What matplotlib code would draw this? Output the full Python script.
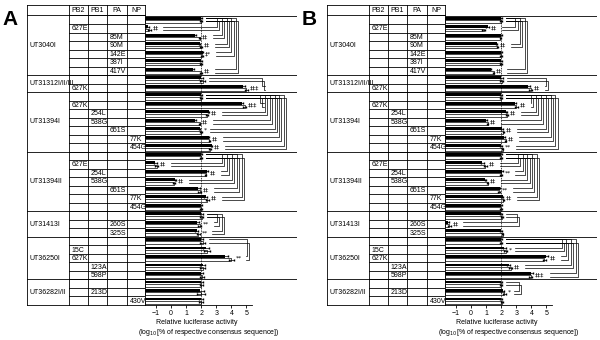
import matplotlib
matplotlib.use('Agg')
import matplotlib.pyplot as plt

plt.rcParams['font.family'] = ['Liberation Sans', 'DejaVu Sans']

# virus strains and number of table rows per strain
groups = ['UT3040I', 'UT31312I/II/III', 'UT31394I', 'UT31394II', 'UT31413I', 'UT36250I', 'UT36282I/II']
group_sizes = [7, 2, 7, 7, 3, 5, 3]
segments = ['PB2', 'PB1', 'PA', 'NP']

# mutation per row (segment, label); None = consensus row
mutations = [
    None, ('PB2', '627E'), ('PA', '85M'), ('PA', '90M'), ('PA', '142E'), ('PA', '387I'), ('PA', '417V'),
    None, ('PB2', '627K'),
    None, ('PB2', '627K'), ('PB1', '254L'), ('PB1', '538G'), ('PA', '651S'), ('NP', '77K'), ('NP', '454G'),
    None, ('PB2', '627E'), ('PB1', '254L'), ('PB1', '538G'), ('PA', '651S'), ('NP', '77K'), ('NP', '454G'),
    None, ('PA', '260S'), ('PA', '325S'),
    None, ('PB2', '15C'), ('PB2', '627K'), ('PB1', '123A'), ('PB1', '598P'),
    None, ('PB1', '213D'), ('NP', '430V'),
]

# panel A, log10 relative activity (black bar / white bar)
a_black = [2.0, -1.55, 1.6, 1.9, 2.1, 2.0, 1.45,
           2.0, 4.8,
           2.0, 4.7, 2.5, 1.6, 1.9, 2.5, 2.7,
           2.0, -1.05, 2.4, 0.3, 1.8, 2.3, 2.0,
           2.0, 1.75, 1.7,
           2.0, 2.3, 3.6, 2.1, 2.0,
           2.0, 1.95, 2.0]
a_white = [2.0, -1.45, 1.9, 2.0, 2.05, 2.0, 2.0,
           2.1, 5.0,
           2.0, 4.9, 2.4, 1.9, 2.0, 2.55, 2.6,
           2.0, -0.95, 2.3, 0.2, 1.9, 2.4, 2.0,
           2.05, 1.9, 1.8,
           2.1, 2.4, 4.0, 2.1, 2.05,
           2.0, 2.0, 2.0]
a_err = [0.05, 0.1, 0.05, 0.05, 0.05, 0.05, 0.05,
         0.15, 0.1,
         0.05, 0.1, 0.05, 0.05, 0.05, 0.05, 0.05,
         0.05, 0.1, 0.05, 0.05, 0.1, 0.1, 0.05,
         0.1, 0.1, 0.1,
         0.15, 0.2, 0.15, 0.15, 0.15,
         0.1, 0.25, 0.15]
a_marks = ['', '‡‡', '‡‡', '‡‡', '‡*', '', '‡‡',
           '', '‡‡‡',
           '', '‡‡‡', '‡‡', '‡‡', '*', '‡‡', '‡‡',
           '', '‡‡', '‡‡', '‡‡', '‡‡', '‡‡', '',
           '', '**', '**',
           '', '', '**', '', '',
           '', '', '']

# panel B
b_black = [2.0, 1.1, 2.0, 1.7, 2.0, 2.0, 1.3,
           2.0, 3.8,
           2.0, 2.9, 2.35, 1.0, 2.05, 2.2, 2.0,
           2.0, 0.75, 2.05, 0.95, 1.9, 2.1, 2.0,
           2.0, -1.55, 2.0,
           2.0, 2.2, 5.0, 2.5, 4.0,
           2.0, 2.1, 2.0]
b_white = [2.0, 0.85, 1.95, 1.75, 2.0, 2.0, 1.5,
           2.05, 3.95,
           2.0, 3.0, 2.4, 1.1, 2.15, 2.3, 2.1,
           2.0, 0.95, 2.0, 1.1, 1.85, 2.15, 2.0,
           2.05, -1.45, 2.1,
           2.0, 2.3, 4.85, 2.65, 3.95,
           2.0, 2.2, 2.05]
b_err = [0.05, 0.1, 0.05, 0.05, 0.05, 0.05, 0.05,
         0.1, 0.1,
         0.05, 0.1, 0.05, 0.05, 0.05, 0.05, 0.05,
         0.05, 0.1, 0.05, 0.05, 0.05, 0.05, 0.05,
         0.05, 0.1, 0.05,
         0.05, 0.1, 0.1, 0.1, 0.1,
         0.05, 0.1, 0.05]
b_marks = ['', '‡‡', '', '‡‡', '', '', '‡‡',
           '', '‡‡',
           '', '‡‡', '‡‡', '‡‡', '‡‡', '‡‡', '**',
           '', '‡‡', '**', '‡‡', '**', '‡‡', '',
           '', '‡‡', '',
           '', '*', '‡‡', '‡‡', '‡‡‡',
           '', '*', '']

W, H = 600, 340
fig = plt.figure(figsize=(W / 100, H / 100), dpi=100)


def px_axes(x0, y0, x1, y1):
    return fig.add_axes([x0 / W, 1 - y1 / H, (x1 - x0) / W, (y1 - y0) / H])


XMIN, XMAX = -1.72, 8.35
n_rows = len(mutations)
head = 1.23
col_edges = [0, 42, 61, 80, 100, 118]
bounds = [0]
for s in group_sizes:
    bounds.append(bounds[-1] + s)
LW = 0.6


def draw_panel(off, letter, black, white, err, marks):
    # ---- table on the left
    tb = px_axes(off + 27, 5, off + 145, 305)
    tb.set_xlim(0, 118)
    tb.set_ylim(n_rows, -head)
    tb.axis('off')
    kw = dict(color='black', lw=LW, clip_on=False)
    for x in col_edges:
        tb.plot([x, x], [-head, n_rows], **kw)
    tb.plot([0, 118], [-head, -head], **kw)
    for b in bounds:
        tb.plot([0, 118], [b, b], **kw)
    for r in range(n_rows):
        tb.plot([42, 118], [r, r], **kw)
    for j, seg in enumerate(segments):
        tb.text((col_edges[j + 1] + col_edges[j + 2]) / 2, -head / 2, seg,
                ha='center', va='center', fontsize=5)
    for g, name in enumerate(groups):
        tb.text(2, (bounds[g] + bounds[g + 1]) / 2, name, ha='left', va='center', fontsize=5)
    for r, m in enumerate(mutations):
        if m is None:
            continue
        j = segments.index(m[0])
        tb.text(col_edges[j + 1] + 2.5, r + 0.55, m[1], ha='left', va='center', fontsize=5)

    # ---- bars
    ax = px_axes(off + 145, 15.5, off + 297, 305)
    rows = list(range(n_rows))
    yb = [r + 0.3 for r in rows]
    yw = [r + 0.7 for r in rows]
    ax.barh(yb, [v - XMIN for v in black], left=XMIN, height=0.34, color='black')
    ax.barh(yw, [v - XMIN for v in white], left=XMIN, height=0.34, color='white',
            edgecolor='black', linewidth=0.5)
    ax.errorbar(black, yb, xerr=err, fmt='none', ecolor='black', elinewidth=0.5, capsize=1)
    ax.errorbar(white, yw, xerr=err, fmt='none', ecolor='black', elinewidth=0.5, capsize=1)
    ax.axvline(2, color='black', lw=0.6, ls=(0, (1, 1)))
    for b in bounds[:-1]:
        ax.axhline(b, color='black', lw=LW)

    ends = [max(black[r], white[r]) + err[r] for r in rows]
    for r in rows:
        if marks[r]:
            ax.text(ends[r] + 0.12, r + 0.5, marks[r], fontsize=4.5, va='center', ha='left',
                    family=['DejaVu Sans'])

    # significance brackets: consensus row vs each mutant row
    for g in range(len(groups)):
        c = bounds[g]
        members = range(bounds[g], bounds[g + 1])
        sig = [r for r in members if r != c and marks[r]]
        base = max(ends[r] for r in members) + 0.9
        for k, r in enumerate(sig):
            xv = base + k * 0.32
            m_end = ends[r] + 0.25 + 0.3 * len(marks[r])
            for dy, dx in ((0.3, 0.0), (0.7, 0.14)):
                ax.plot([ends[c] + 0.25, xv + dx, xv + dx, m_end],
                        [c + dy, c + dy, r + dy, r + dy], color='black', lw=0.5)

    ax.set_xlim(XMIN, XMAX)
    ax.set_ylim(n_rows, 0)
    ax.set_yticks([])
    ax.set_xticks(range(-1, 6))
    ax.tick_params(axis='x', length=2, width=0.6, labelsize=5, pad=1.5)
    for s in ('top', 'right'):
        ax.spines[s].set_visible(False)
    ax.spines['bottom'].set_bounds(XMIN, 5.4)
    ax.spines['bottom'].set_linewidth(LW)
    ax.spines['left'].set_linewidth(LW)

    fig.text((off + 197) / W, 1 - 323 / H, 'Relative luciferase activity',
             ha='center', va='center', fontsize=5)
    fig.text((off + 209) / W, 1 - 332 / H, '(log$_{10}$[% of respective consensus sequence])',
             ha='center', va='center', fontsize=5)
    fig.text((off + 2) / W, 1 - 10 / H, letter, ha='left', va='top', fontsize=15,
             fontweight='bold')


draw_panel(0, 'A', a_black, a_white, a_err, a_marks)
draw_panel(300, 'B', b_black, b_white, b_err, b_marks)

fig.savefig('out.png', dpi=100)
